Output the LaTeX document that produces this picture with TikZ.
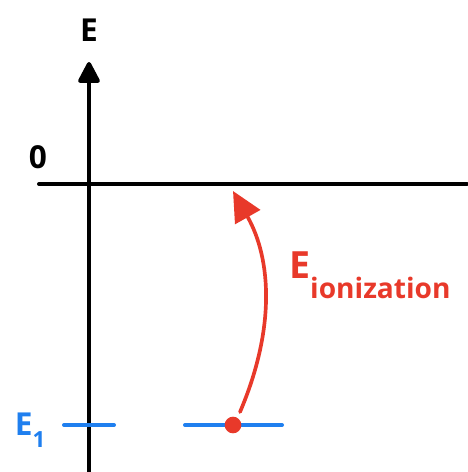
\documentclass[tikz,border=0pt]{standalone}
\usepackage{fontspec}
\setmainfont{Open Sans}
\usetikzlibrary{arrows.meta,positioning,calc}
\definecolor{cRed}{HTML}{E8392A}
\definecolor{cBlue}{HTML}{1F7FEF}

\begin{document}
\begin{tikzpicture}[x=0.03cm,y=-0.03cm,
  axis/.style={line width=1.2mm,line cap=round},
  level/.style={draw=cBlue,line width=1.2mm,line cap=round},
  lbl/.style={inner sep=0,font=\bfseries\fontsize{27}{29}\selectfont}]
  \useasboundingbox (0,0) rectangle (467,472);
  % axes
  \coordinate (ybot) at (89,472);
  \coordinate (ytop) at (89,62);
  \coordinate (xl) at (39,184);
  \coordinate (xr) at (467,184);
  \draw[axis,-{Triangle[length=7mm,width=7mm,round]}] (ybot) -- (ytop);
  \draw[axis] (xl) -- (xr);
  \node[lbl] (elab) at (89,30) {E};
  \node[lbl] (zero) at (38,157) {0};
  % levels
  \coordinate (la) at (64,425);
  \coordinate (lb) at (114,425);
  \coordinate (lc) at (185,425);
  \coordinate (ld) at (282,425);
  \draw[level] (la) -- (lb);
  \draw[level] (lc) -- (ld);
  \node[lbl,text=cBlue] (eone) at (30,430) {E\raisebox{-0.7ex}{\fontsize{19}{20}\selectfont 1}};
  % electron and ionisation
  \node[circle,fill=cRed,minimum size=5mm,inner sep=0] (dot) at (233,425) {};
  \coordinate (top) at (233,191);
  \draw[cRed,line width=1.1mm,line cap=round,-{Triangle[length=9mm,width=8.5mm]}]
    (240,412) .. controls (275,330) and (272,260) .. (top);
  \node[lbl,text=cRed,anchor=west,font=\bfseries\fontsize{32}{34}\selectfont]
    (eion) at (289,275)
    {E\raisebox{-1.0ex}{\fontsize{24}{26}\selectfont ionization}};
\end{tikzpicture}
\end{document}
